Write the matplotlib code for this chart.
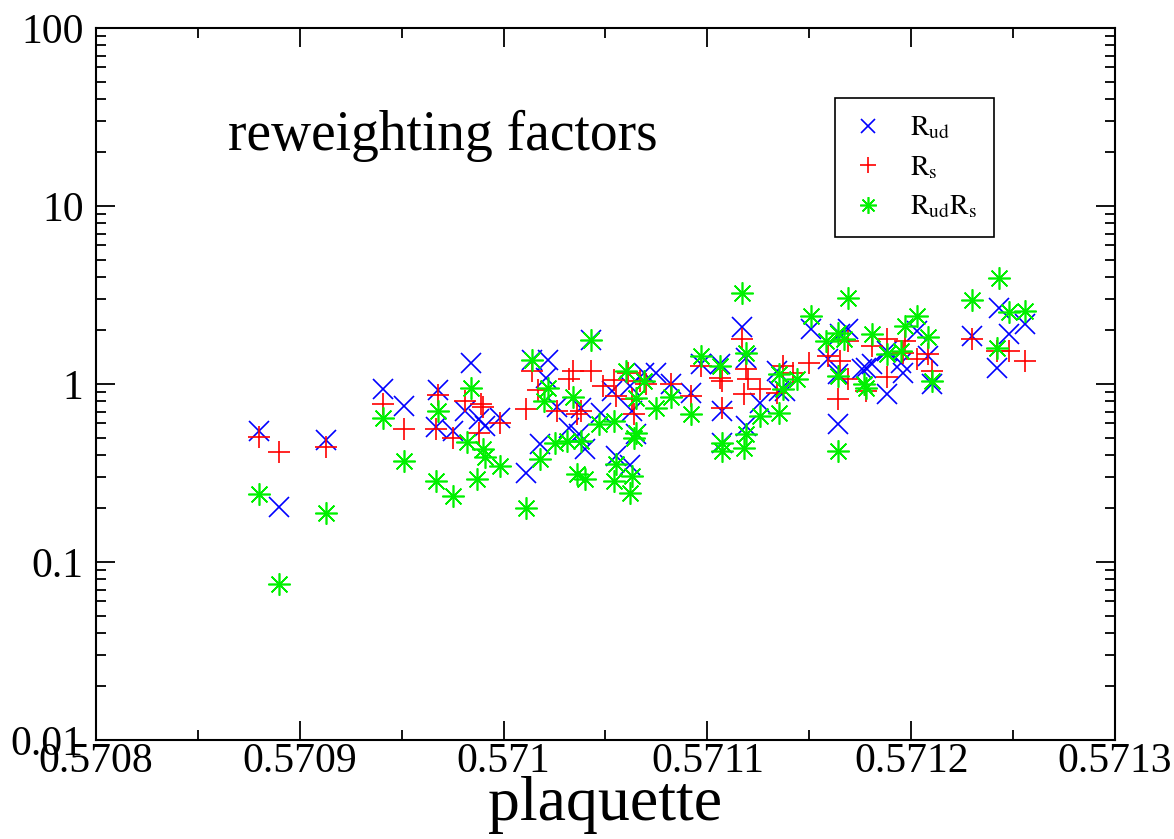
import matplotlib
matplotlib.use("Agg")
import matplotlib.pyplot as plt
from matplotlib.ticker import FixedLocator, FixedFormatter, NullFormatter

plt.rcParams['font.family'] = ['Liberation Serif', 'DejaVu Serif']
plt.rcParams['mathtext.fontset'] = 'stix'

# R_ud  (blue x)
x_ud = [0.570880, 0.570890, 0.570913, 0.570941, 0.570951, 0.570968, 0.570984, 0.570981,
        0.570967, 0.570975, 0.570988, 0.570991, 0.570998, 0.571011, 0.571014, 0.571022,
        0.571021, 0.571026, 0.571038, 0.571043, 0.571018, 0.571032, 0.571037, 0.571040,
        0.571048, 0.571053, 0.571055, 0.571062, 0.571065, 0.571069, 0.571062, 0.571063,
        0.571075, 0.571082, 0.571092, 0.571097, 0.571106, 0.571107, 0.571117, 0.571119,
        0.571126, 0.571119, 0.571107, 0.571134, 0.571135, 0.571138, 0.571151, 0.571159,
        0.571165, 0.571169, 0.571164, 0.571164, 0.571178, 0.571181, 0.571176, 0.571188,
        0.571188, 0.571195, 0.571196, 0.571203, 0.571208, 0.571210, 0.571230, 0.571243,
        0.571248, 0.571256, 0.571242]
r_ud = [0.545, 0.204, 0.485, 0.937, 0.752, 0.925, 1.31, 0.705,
        0.573, 0.545, 0.636, 0.581, 0.644, 0.316, 1.36, 1.36,
        1.08, 0.743, 0.733, 1.77, 0.460, 0.566, 0.524, 0.432,
        0.687, 0.913, 0.394, 0.351, 0.524, 1.15, 0.974, 0.705,
        1.15, 1.00, 0.890, 1.29, 1.29, 0.705, 2.09, 1.40,
        0.782, 0.581, 0.466, 1.18, 0.913, 0.913, 2.04, 1.38,
        1.91, 2.04, 0.596, 1.14, 1.23, 1.29, 1.21, 1.53,
        0.879, 1.31, 1.15, 1.99, 1.44, 1.00, 1.86, 2.67,
        1.91, 2.17, 1.23]

# R_s  (red +)
x_s = [0.570880, 0.570890, 0.570913, 0.570941, 0.570951, 0.570968, 0.570967, 0.570981,
       0.570989, 0.570990, 0.570975, 0.570988, 0.570998, 0.571011, 0.571014, 0.571017,
       0.571026, 0.571032, 0.571034, 0.571038, 0.571036, 0.571043, 0.571049, 0.571054,
       0.571055, 0.571061, 0.571063, 0.571064, 0.571070, 0.571067, 0.571082, 0.571092,
       0.571097, 0.571106, 0.571107, 0.571107, 0.571117, 0.571119, 0.571120, 0.571126,
       0.571118, 0.571134, 0.571137, 0.571142, 0.571150, 0.571159, 0.571165, 0.571164,
       0.571169, 0.571169, 0.571178, 0.571181, 0.571188, 0.571188, 0.571197, 0.571196,
       0.571203, 0.571208, 0.571210, 0.571230, 0.571242, 0.571248, 0.571256]
r_s = [0.504, 0.415, 0.443, 0.772, 0.559, 0.867, 0.559, 0.803,
       0.772, 0.743, 0.497, 0.530, 0.604, 0.724, 1.18, 0.925,
       0.705, 1.07, 1.18, 0.705, 0.678, 1.18, 0.974, 1.05,
       0.856, 1.15, 0.823, 0.678, 1.00, 1.04, 1.00, 0.856,
       1.26, 1.08, 0.733, 1.04, 1.79, 1.21, 1.07, 0.937,
       0.879, 0.890, 1.26, 1.15, 1.31, 1.44, 1.35, 0.823,
       1.07, 1.74, 0.913, 1.64, 1.79, 1.09, 1.74, 1.49,
       1.38, 1.47, 1.18, 1.79, 1.53, 1.53, 1.35]

# R_ud R_s  (green asterisk)
x_uds = [0.570880, 0.570890, 0.570913, 0.570941, 0.570951, 0.570968, 0.570984, 0.570982,
         0.570990, 0.570991, 0.570998, 0.570967, 0.570975, 0.570987, 0.571011, 0.571014,
         0.571022, 0.571020, 0.571034, 0.571018, 0.571025, 0.571031, 0.571038, 0.571036,
         0.571040, 0.571043, 0.571047, 0.571054, 0.571055, 0.571054, 0.571063, 0.571062,
         0.571060, 0.571065, 0.571065, 0.571064, 0.571069, 0.571075, 0.571082, 0.571092,
         0.571097, 0.571106, 0.571107, 0.571107, 0.571117, 0.571119, 0.571119, 0.571118,
         0.571126, 0.571135, 0.571135, 0.571137, 0.571144, 0.571151, 0.571158, 0.571164,
         0.571167, 0.571169, 0.571164, 0.571164, 0.571181, 0.571188, 0.571195, 0.571197,
         0.571203, 0.571208, 0.571177, 0.571178, 0.571210, 0.571230, 0.571243, 0.571248,
         0.571256, 0.571242]
r_uds = [0.241, 0.075, 0.188, 0.644, 0.369, 0.705, 0.955, 0.472,
         0.432, 0.389, 0.346, 0.285, 0.235, 0.292, 0.201, 1.36,
         0.955, 0.803, 0.845, 0.379, 0.466, 0.478, 0.478, 0.312,
         0.292, 1.77, 0.596, 0.620, 0.355, 0.285, 0.304, 0.244,
         1.18, 0.834, 0.530, 0.497, 1.04, 0.733, 0.845, 0.678,
         1.44, 1.26, 0.466, 0.420, 3.24, 1.49, 0.524, 0.437,
         0.661, 0.687, 1.14, 0.937, 1.07, 2.41, 1.74, 1.93,
         1.79, 3.04, 1.11, 0.420, 1.91, 1.47, 1.53, 2.12,
         2.41, 1.84, 1.00, 0.955, 1.04, 2.96, 3.94, 2.54,
         2.57, 1.59]

x_ticks = [0.5708, 0.5709, 0.5710, 0.5711, 0.5712, 0.5713]
x_labels = ["0.5708", "0.5709", "0.571", "0.5711", "0.5712", "0.5713"]
y_ticks = [0.01, 0.1, 1, 10, 100]
y_labels = ["0.01", "0.1", "1", "10", "100"]

fig = plt.figure(figsize=(11.74, 8.39), dpi=100)
ax = fig.add_axes([96 / 1174, 1 - 740 / 839, 1019 / 1174, 712 / 839])

ms = 14
lw = 1.2
ax.plot(x_ud, r_ud, linestyle='none', marker='x', ms=ms, mew=lw, color='#0000ff',
        label=r'$\mathrm{R_{ud}}$')
ax.plot(x_s, r_s, linestyle='none', marker='+', ms=ms + 2, mew=lw, color='#ff0000',
        label=r'$\mathrm{R_{s}}$')
ax.plot(x_uds, r_uds, linestyle='none', marker=(8, 2, 0), ms=ms + 2, mew=lw, color='#00f000',
        label=r'$\mathrm{R_{ud}R_{s}}$')

ax.set_yscale('log')
ax.set_xlim(0.5708, 0.5713)
ax.set_ylim(0.01, 100)

ax.xaxis.set_major_locator(FixedLocator(x_ticks))
ax.xaxis.set_major_formatter(FixedFormatter(x_labels))
ax.xaxis.set_minor_locator(FixedLocator([0.57085, 0.57095, 0.57105, 0.57115, 0.57125]))
ax.yaxis.set_major_locator(FixedLocator(y_ticks))
ax.yaxis.set_major_formatter(FixedFormatter(y_labels))
minor_y = [m * d for d in [0.01, 0.1, 1, 10] for m in range(2, 10)]
ax.yaxis.set_minor_locator(FixedLocator(minor_y))
ax.yaxis.set_minor_formatter(NullFormatter())

for s in ax.spines.values():
    s.set_linewidth(1.5)
ax.tick_params(which='both', direction='in', top=True, right=True, width=1.3)
ax.tick_params(which='major', length=14, labelsize=30)
ax.tick_params(axis='x', which='major', pad=2)
ax.tick_params(axis='y', which='major', pad=9)
ax.tick_params(which='minor', length=7)

ax.set_xlabel("plaquette", fontsize=46, labelpad=-4)

ax.text(0.1295, 0.8287, "reweighting factors", transform=ax.transAxes,
        fontsize=40, va='baseline', ha='left')

leg = ax.legend(loc='upper left', bbox_to_anchor=(0.725, 0.9017), borderaxespad=0,
                fontsize=20, markerscale=0.75, fancybox=False, framealpha=1,
                edgecolor='black', handlelength=1.2, handletextpad=0.9,
                labelspacing=0.45, borderpad=0.6)
leg.get_frame().set_linewidth(1.2)

fig.savefig("out.png", dpi=100)
